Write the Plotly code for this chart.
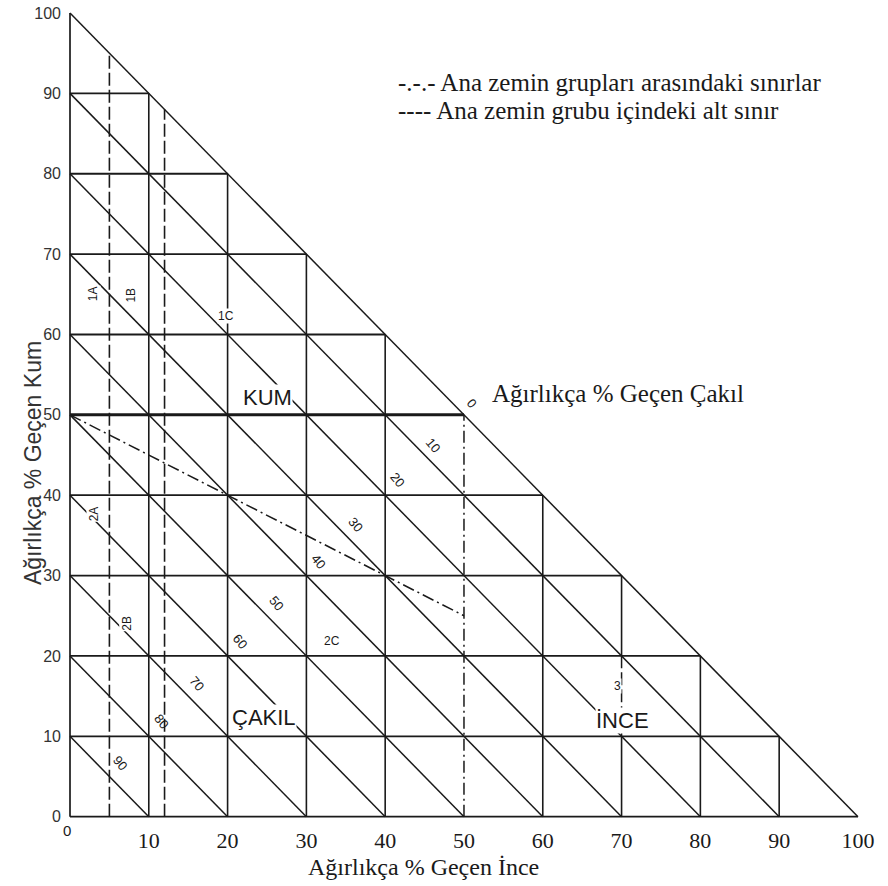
import plotly.graph_objects as go

# ---------------- data ----------------
grid_levels = [10, 20, 30, 40, 50, 60, 70, 80, 90]          # % lines (fines / sand)
diag_levels = [10, 20, 30, 40, 50, 60, 70, 80, 90, 100]     # fines+sand = 100 - gravel
x_ticks = [10, 20, 30, 40, 50, 60, 70, 80, 90, 100]
y_ticks = [0, 10, 20, 30, 40, 50, 60, 70, 80, 90, 100]

# main group boundaries (dash-dot)
main_boundary_fines = [0, 20, 40, 50]
main_boundary_sand = [50, 40, 30, 25]
main_vertical_fines = 50          # fines = 50 boundary, sand 0..50
kum_lower_sand = 50               # bold horizontal, sand = 50
# sub-group boundaries (dashed)
sub_boundary_fines = [5, 12]
ince_sub_fines = 70
ince_sub_sand = [10, 20]

gravel_labels = ["0", "10", "20", "30", "40", "50", "60", "70", "80", "90"]
gravel_label_fines = [51.0, 46.1, 41.5, 36.2, 31.5, 26.2, 21.6, 16.1, 11.6, 6.3]
gravel_label_sand = [51.4, 46.2, 41.9, 36.3, 31.7, 26.5, 21.8, 16.6, 11.8, 6.7]

group_labels = ["KUM", "ÇAKIL", "İNCE"]
group_label_fines = [25.1, 24.6, 70.1]
group_label_sand = [52.2, 12.4, 12.0]

sub_labels = ["1A", "1B", "1C", "2A", "2B", "2C", "3"]
sub_label_fines = [3.0, 7.8, 19.8, 3.0, 7.2, 33.2, 69.5]
sub_label_sand = [65.1, 64.9, 62.3, 37.7, 24.1, 21.9, 16.3]
vertical_sub_labels = {"1A", "1B", "2A", "2B"}

legend_lines = ["-.-.- Ana zemin grupları arasındaki sınırlar",
                "---- Ana zemin grubu içindeki alt sınır"]
x_title = "Ağırlıkça % Geçen İnce"
y_title = "Ağırlıkça % Geçen Kum"
gravel_title = "Ağırlıkça % Geçen Çakıl"

# ---------------- styles ----------------
INK = "#1a1a1a"
SERIF = "Liberation Serif, Times New Roman, serif"
SANS = "Liberation Sans, Arial, sans-serif"
DASH = "13px,4px"
DASHDOT = "12px,4px,2px,4px"

fig = go.Figure()


def add_line(xs, ys, width=1.5, dash="solid"):
    fig.add_trace(go.Scatter(x=xs, y=ys, mode="lines",
                             line=dict(color=INK, width=width, dash=dash),
                             hoverinfo="skip", showlegend=False))


# outer edges: left side, bottom
add_line([0, 0, None, 0, 100], [0, 100, None, 0, 0], width=1.7)

# horizontal grid
hx, hy = [], []
for v in grid_levels:
    if v == kum_lower_sand:
        continue
    hx += [0, 100 - v, None]
    hy += [v, v, None]
add_line(hx, hy, width=1.8)
add_line([0, 100 - kum_lower_sand], [kum_lower_sand, kum_lower_sand], width=3)

# vertical grid
vx, vy = [], []
for v in grid_levels:
    if v == main_vertical_fines:
        continue
    if v == ince_sub_fines:
        vx += [v, v, None, v, v, None]
        vy += [0, ince_sub_sand[0], None, ince_sub_sand[1], 100 - v, None]
        continue
    vx += [v, v, None]
    vy += [0, 100 - v, None]
add_line(vx, vy, width=1.6)
add_line([ince_sub_fines, ince_sub_fines], ince_sub_sand, width=1.5, dash=DASH)

# diagonal (constant gravel) lines incl. hypotenuse
dx, dy = [], []
for c in diag_levels:
    dx += [c, 0, None]
    dy += [0, c, None]
add_line(dx, dy, width=1.5)

# main boundaries (dash-dot)
add_line(main_boundary_fines, main_boundary_sand, width=1.5, dash=DASHDOT)
add_line([main_vertical_fines, main_vertical_fines], [0, 100 - main_vertical_fines],
         width=1.5, dash=DASHDOT)

# sub boundaries (dashed)
for f in sub_boundary_fines:
    add_line([f, f], [0, 100 - f], width=1.6, dash=DASH)

annotations = []
for t, x, y in zip(gravel_labels, gravel_label_fines, gravel_label_sand):
    annotations.append(dict(x=x, y=y, text=t, showarrow=False, textangle=50,
                            font=dict(family=SANS, size=13, color=INK)))
for t, x, y in zip(group_labels, group_label_fines, group_label_sand):
    annotations.append(dict(x=x, y=y, text=t, showarrow=False, bgcolor="white",
                            borderpad=0,
                            font=dict(family=SANS, size=22, color=INK)))
for t, x, y in zip(sub_labels, sub_label_fines, sub_label_sand):
    annotations.append(dict(x=x, y=y, text=t, showarrow=False, bgcolor="white",
                            borderpad=0,
                            textangle=-90 if t in vertical_sub_labels else 0,
                            font=dict(family=SANS, size=12, color=INK)))

annotations.append(dict(x=53.3, y=52.7, text=gravel_title, showarrow=False,
                        xanchor="left", font=dict(family=SERIF, size=25, color=INK)))
for i, t in enumerate(legend_lines):
    annotations.append(dict(x=41.4, y=91.3 - 3.4 * i, text=t, showarrow=False,
                            xanchor="left", font=dict(family=SERIF, size=25, color=INK)))
annotations.append(dict(x=0.4502, y=-0.0509, xref="paper", yref="paper", text=x_title,
                        xanchor="center", yanchor="middle", showarrow=False,
                        font=dict(family=SERIF, size=24, color=INK)))
annotations.append(dict(x=-0.0367, y=0.442, xref="paper", yref="paper", text=y_title,
                        xanchor="center", yanchor="middle", showarrow=False,
                        textangle=-90,
                        font=dict(family=SANS, size=23, color="#333333")))
annotations.append(dict(x=0.0068, y=-0.0061, xref="paper", yref="paper", text="0",
                        xanchor="center", yanchor="middle", showarrow=False,
                        font=dict(family=SANS, size=15, color=INK)))

fig.update_layout(
    width=888, height=886,
    margin=dict(l=62, r=22, t=5, b=61),
    paper_bgcolor="white", plot_bgcolor="white",
    showlegend=False,
    annotations=annotations,
    xaxis=dict(range=[-1.015, 101.02], showgrid=False, zeroline=False, showline=False,
               automargin=False, tickvals=x_ticks, ticks="", ticklabelstandoff=0,
               ticklabeloverflow="allow",
               tickfont=dict(family=SERIF, size=22, color=INK), fixedrange=True),
    yaxis=dict(range=[-1.033, 100.995], showgrid=False, zeroline=False, showline=False,
               automargin=False, tickvals=y_ticks, ticks="", ticklabelstandoff=0,
               ticklabeloverflow="allow",
               tickfont=dict(family=SANS, size=16, color="#333333"), fixedrange=True),
)

# remove the browser's default 8px page margin so the figure sits at the page origin
fig.write_html("out.html", config={"displayModeBar": False},
               post_script="document.body.style.margin='0px';")
